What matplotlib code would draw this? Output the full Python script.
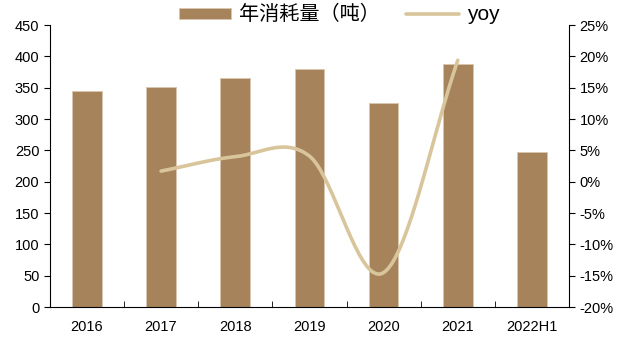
import numpy as np
import matplotlib
matplotlib.use('Agg')
import matplotlib.pyplot as plt

plt.rcParams['font.family'] = ['Liberation Sans', 'Noto Sans CJK SC', 'DejaVu Sans']

years = ['2016', '2017', '2018', '2019', '2020', '2021', '2022H1']
consumption = [345, 351, 365, 380, 325, 388, 247]
yoy = [None, 1.7, 4.0, 4.1, -14.5, 19.4, None]

bar_color = '#A6835A'
line_color = '#D9C59B'


def catmull_rom(xs, ys, n=40):
    """Smooth curve through the points, like Excel's smoothed line."""
    px = np.array(xs, dtype=float)
    py = np.array(ys, dtype=float)
    px = np.concatenate([[2 * px[0] - px[1]], px, [2 * px[-1] - px[-2]]])
    py = np.concatenate([[2 * py[0] - py[1]], py, [2 * py[-1] - py[-2]]])
    out_x, out_y = [], []
    for i in range(1, len(px) - 2):
        t = np.linspace(0, 1, n)
        for arr, out in ((px, out_x), (py, out_y)):
            p0, p1, p2, p3 = arr[i - 1], arr[i], arr[i + 1], arr[i + 2]
            out.extend(0.5 * (2 * p1 + (-p0 + p2) * t
                              + (2 * p0 - 5 * p1 + 4 * p2 - p3) * t ** 2
                              + (-p0 + 3 * p1 - 3 * p2 + p3) * t ** 3))
    return np.array(out_x), np.array(out_y)


fig = plt.figure(figsize=(6.22, 3.4), dpi=100)
ax = fig.add_axes([0.080, 0.097, 0.835, 0.829])
x = np.arange(len(years))

ax.bar(x, consumption, width=0.4, color=bar_color, edgecolor='#D8C7B0',
       linewidth=0.6, label='年消耗量（吨）', zorder=2)
ax.set_xlim(-0.5, len(years) - 0.5)
ax.set_ylim(0, 450)
ax.set_yticks(range(0, 451, 50))
ax.set_xticks(x)
ax.set_xticklabels(years)
ax.set_xticks(np.arange(-0.5, len(years), 1), minor=True)
ax.tick_params(axis='x', which='major', length=0, pad=9, labelsize=10.5)
ax.tick_params(axis='x', which='minor', length=4, direction='in')
ax.tick_params(axis='y', length=4, labelsize=10.5)
for s in ['top', 'right']:
    ax.spines[s].set_visible(False)

ax2 = ax.twinx()
pts = [(xi, v) for xi, v in zip(x, yoy) if v is not None]
sx, sy = catmull_rom([p[0] for p in pts], [p[1] for p in pts])
ax2.plot(sx, sy, color=line_color, linewidth=2.6, solid_capstyle='round',
         label='yoy', zorder=3)
ax2.set_ylim(-20, 25)
ax2.set_yticks(range(-20, 26, 5))
ax2.set_yticklabels([f'{v}%' for v in range(-20, 26, 5)])
ax2.tick_params(axis='y', length=4, labelsize=10.5)
for s in ['top', 'left', 'bottom']:
    ax2.spines[s].set_visible(False)

h1, l1 = ax.get_legend_handles_labels()
h2, l2 = ax2.get_legend_handles_labels()
leg = fig.legend(h1 + h2, l1 + l2, loc='upper center', bbox_to_anchor=(0.545, 1.038),
                 ncol=2, frameon=False, fontsize=14.5, handlelength=2.6,
                 handleheight=0.5, handletextpad=0.4, columnspacing=1.3)
for t in leg.get_texts():
    if t.get_text() == 'yoy':
        t.set_fontsize(15)

fig.savefig('out.png', dpi=100)
